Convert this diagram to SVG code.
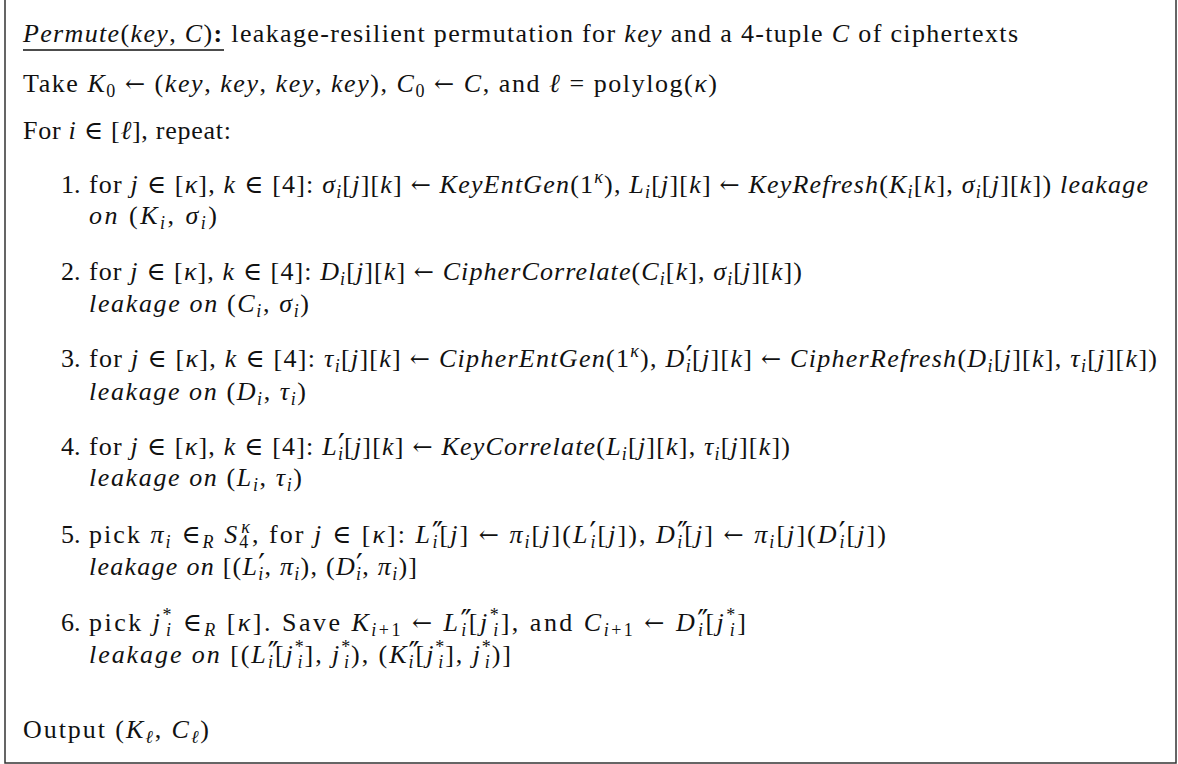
<svg xmlns="http://www.w3.org/2000/svg" width="1178" height="764" viewBox="0 0 1178 764">
  <style>
    .t { font-family: "Liberation Serif", "DejaVu Serif", serif; font-size: 26px; fill: #111; }
    .i { font-style: italic; }
    .b { font-weight: bold; }
    .ar { font-family: "DejaVu Serif", serif; font-style: normal; font-size: 24px; }
    .sb { font-size: 18px; baseline-shift: -5px; }
    .sp { font-size: 18px; baseline-shift: 10px; }
    .pr { font-family: "DejaVu Sans", sans-serif; font-style: normal; font-size: 30px; baseline-shift: 0px; }
    .frame { fill: #fff; stroke: #333; stroke-width: 1.5; }
  </style>

  <!-- framed algorithm box -->
  <rect class="frame" x="5" y="-2" width="1171" height="765"/>

  <g id="heading">
    <text class="t" x="23" y="42" textLength="995"><tspan class="i">Permute</tspan>(<tspan class="i">key</tspan>, <tspan class="i">C</tspan>)<tspan class="b">:</tspan> leakage-resilient permutation for <tspan class="i">key</tspan> and a 4-tuple <tspan class="i">C</tspan> of ciphertexts</text>
    <line x1="23" y1="50" x2="224" y2="50" stroke="#111" stroke-width="1.3"/>
  </g>

  <g id="init">
    <text class="t" x="23" y="92" textLength="694">Take <tspan class="i">K</tspan><tspan class="sb">0</tspan> <tspan class="ar">←</tspan> (<tspan class="i">key</tspan>, <tspan class="i">key</tspan>, <tspan class="i">key</tspan>, <tspan class="i">key</tspan>), <tspan class="i">C</tspan><tspan class="sb">0</tspan> <tspan class="ar">←</tspan> <tspan class="i">C</tspan>, and <tspan class="i">ℓ</tspan> = polylog(<tspan class="i">κ</tspan>)</text>
  </g>

  <g id="loop">
    <text class="t" x="23" y="139" textLength="208">For <tspan class="i">i</tspan> ∈ [<tspan class="i">ℓ</tspan>], repeat:</text>
  </g>

  <g id="step1">
    <text class="t" x="61" y="193">1.</text>
    <text class="t" x="89" y="193" textLength="1059">for <tspan class="i">j</tspan> ∈ [<tspan class="i">κ</tspan>], <tspan class="i">k</tspan> ∈ [4]: <tspan class="i">σ</tspan><tspan class="sb i">i</tspan>[<tspan class="i">j</tspan>][<tspan class="i">k</tspan>] <tspan class="ar">←</tspan> <tspan class="i">KeyEntGen</tspan>(1<tspan class="sp i">κ</tspan>), <tspan class="i">L</tspan><tspan class="sb i">i</tspan>[<tspan class="i">j</tspan>][<tspan class="i">k</tspan>] <tspan class="ar">←</tspan> <tspan class="i">KeyRefresh</tspan>(<tspan class="i">K</tspan><tspan class="sb i">i</tspan>[<tspan class="i">k</tspan>], <tspan class="i">σ</tspan><tspan class="sb i">i</tspan>[<tspan class="i">j</tspan>][<tspan class="i">k</tspan>]) <tspan class="i">leakage</tspan></text>
    <text class="t" x="89" y="224" textLength="128"><tspan class="i">on</tspan> (<tspan class="i">K</tspan><tspan class="sb i">i</tspan>, <tspan class="i">σ</tspan><tspan class="sb i">i</tspan>)</text>
  </g>

  <g id="step2">
    <text class="t" x="61" y="280">2.</text>
    <text class="t" x="89" y="280" textLength="713">for <tspan class="i">j</tspan> ∈ [<tspan class="i">κ</tspan>], <tspan class="i">k</tspan> ∈ [4]: <tspan class="i">D</tspan><tspan class="sb i">i</tspan>[<tspan class="i">j</tspan>][<tspan class="i">k</tspan>] <tspan class="ar">←</tspan> <tspan class="i">CipherCorrelate</tspan>(<tspan class="i">C</tspan><tspan class="sb i">i</tspan>[<tspan class="i">k</tspan>], <tspan class="i">σ</tspan><tspan class="sb i">i</tspan>[<tspan class="i">j</tspan>][<tspan class="i">k</tspan>])</text>
    <text class="t" x="89" y="312" textLength="220"><tspan class="i">leakage on</tspan> (<tspan class="i">C</tspan><tspan class="sb i">i</tspan>, <tspan class="i">σ</tspan><tspan class="sb i">i</tspan>)</text>
  </g>

  <g id="step3">
    <text class="t" x="61" y="367">3.</text>
    <text class="t" x="89" y="367" textLength="1068">for <tspan class="i">j</tspan> ∈ [<tspan class="i">κ</tspan>], <tspan class="i">k</tspan> ∈ [4]: <tspan class="i">τ</tspan><tspan class="sb i">i</tspan>[<tspan class="i">j</tspan>][<tspan class="i">k</tspan>] <tspan class="ar">←</tspan> <tspan class="i">CipherEntGen</tspan>(1<tspan class="sp i">κ</tspan>), <tspan class="i">D</tspan><tspan class="pr">′</tspan><tspan class="sb i" dx="-8">i</tspan>[<tspan class="i">j</tspan>][<tspan class="i">k</tspan>] <tspan class="ar">←</tspan> <tspan class="i">CipherRefresh</tspan>(<tspan class="i">D</tspan><tspan class="sb i">i</tspan>[<tspan class="i">j</tspan>][<tspan class="i">k</tspan>], <tspan class="i">τ</tspan><tspan class="sb i">i</tspan>[<tspan class="i">j</tspan>][<tspan class="i">k</tspan>])</text>
    <text class="t" x="89" y="400" textLength="217"><tspan class="i">leakage on</tspan> (<tspan class="i">D</tspan><tspan class="sb i">i</tspan>, <tspan class="i">τ</tspan><tspan class="sb i">i</tspan>)</text>
  </g>

  <g id="step4">
    <text class="t" x="61" y="455">4.</text>
    <text class="t" x="89" y="455" textLength="701">for <tspan class="i">j</tspan> ∈ [<tspan class="i">κ</tspan>], <tspan class="i">k</tspan> ∈ [4]: <tspan class="i">L</tspan><tspan class="pr">′</tspan><tspan class="sb i" dx="-8">i</tspan>[<tspan class="i">j</tspan>][<tspan class="i">k</tspan>] <tspan class="ar">←</tspan> <tspan class="i">KeyCorrelate</tspan>(<tspan class="i">L</tspan><tspan class="sb i">i</tspan>[<tspan class="i">j</tspan>][<tspan class="i">k</tspan>], <tspan class="i">τ</tspan><tspan class="sb i">i</tspan>[<tspan class="i">j</tspan>][<tspan class="i">k</tspan>])</text>
    <text class="t" x="89" y="486" textLength="213"><tspan class="i">leakage on</tspan> (<tspan class="i">L</tspan><tspan class="sb i">i</tspan>, <tspan class="i">τ</tspan><tspan class="sb i">i</tspan>)</text>
  </g>

  <g id="step5">
    <text class="t" x="61" y="543">5.</text>
    <text class="t" x="89" y="543" textLength="797">pick <tspan class="i">π</tspan><tspan class="sb i">i</tspan> ∈<tspan class="sb i">R</tspan> <tspan class="i">S</tspan><tspan class="sb">4</tspan><tspan class="sp i" dx="-9">κ</tspan>, for <tspan class="i">j</tspan> ∈ [<tspan class="i">κ</tspan>]: <tspan class="i">L</tspan><tspan class="pr">″</tspan><tspan class="sb i" dx="-13">i</tspan>[<tspan class="i">j</tspan>] <tspan class="ar">←</tspan> <tspan class="i">π</tspan><tspan class="sb i">i</tspan>[<tspan class="i">j</tspan>](<tspan class="i">L</tspan><tspan class="pr">′</tspan><tspan class="sb i" dx="-8">i</tspan>[<tspan class="i">j</tspan>]), <tspan class="i">D</tspan><tspan class="pr">″</tspan><tspan class="sb i" dx="-13">i</tspan>[<tspan class="i">j</tspan>] <tspan class="ar">←</tspan> <tspan class="i">π</tspan><tspan class="sb i">i</tspan>[<tspan class="i">j</tspan>](<tspan class="i">D</tspan><tspan class="pr">′</tspan><tspan class="sb i" dx="-8">i</tspan>[<tspan class="i">j</tspan>])</text>
    <text class="t" x="89" y="575" textLength="328"><tspan class="i">leakage on</tspan> [(<tspan class="i">L</tspan><tspan class="pr">′</tspan><tspan class="sb i" dx="-8">i</tspan>, <tspan class="i">π</tspan><tspan class="sb i">i</tspan>), (<tspan class="i">D</tspan><tspan class="pr">′</tspan><tspan class="sb i" dx="-8">i</tspan>, <tspan class="i">π</tspan><tspan class="sb i">i</tspan>)]</text>
  </g>

  <g id="step6">
    <text class="t" x="61" y="631">6.</text>
    <text class="t" x="89" y="631" textLength="657">pick <tspan class="i">j</tspan><tspan class="sp">*</tspan><tspan class="sb i" dx="-8">i</tspan> ∈<tspan class="sb i">R</tspan> [<tspan class="i">κ</tspan>]. Save <tspan class="i">K</tspan><tspan class="sb"><tspan class="i">i</tspan>+1</tspan> <tspan class="ar">←</tspan> <tspan class="i">L</tspan><tspan class="pr">″</tspan><tspan class="sb i" dx="-13">i</tspan>[<tspan class="i">j</tspan><tspan class="sp">*</tspan><tspan class="sb i" dx="-8">i</tspan>], and <tspan class="i">C</tspan><tspan class="sb"><tspan class="i">i</tspan>+1</tspan> <tspan class="ar">←</tspan> <tspan class="i">D</tspan><tspan class="pr">″</tspan><tspan class="sb i" dx="-13">i</tspan>[<tspan class="i">j</tspan><tspan class="sp">*</tspan><tspan class="sb i" dx="-8">i</tspan>]</text>
    <text class="t" x="89" y="663" textLength="422"><tspan class="i">leakage on</tspan> [(<tspan class="i">L</tspan><tspan class="pr">″</tspan><tspan class="sb i" dx="-13">i</tspan>[<tspan class="i">j</tspan><tspan class="sp">*</tspan><tspan class="sb i" dx="-8">i</tspan>], <tspan class="i">j</tspan><tspan class="sp">*</tspan><tspan class="sb i" dx="-8">i</tspan>), (<tspan class="i">K</tspan><tspan class="pr">″</tspan><tspan class="sb i" dx="-13">i</tspan>[<tspan class="i">j</tspan><tspan class="sp">*</tspan><tspan class="sb i" dx="-8">i</tspan>], <tspan class="i">j</tspan><tspan class="sp">*</tspan><tspan class="sb i" dx="-8">i</tspan>)]</text>
  </g>

  <g id="result">
    <text class="t" x="23" y="738" textLength="186">Output (<tspan class="i">K</tspan><tspan class="sb i">ℓ</tspan>, <tspan class="i">C</tspan><tspan class="sb i">ℓ</tspan>)</text>
  </g>
</svg>
